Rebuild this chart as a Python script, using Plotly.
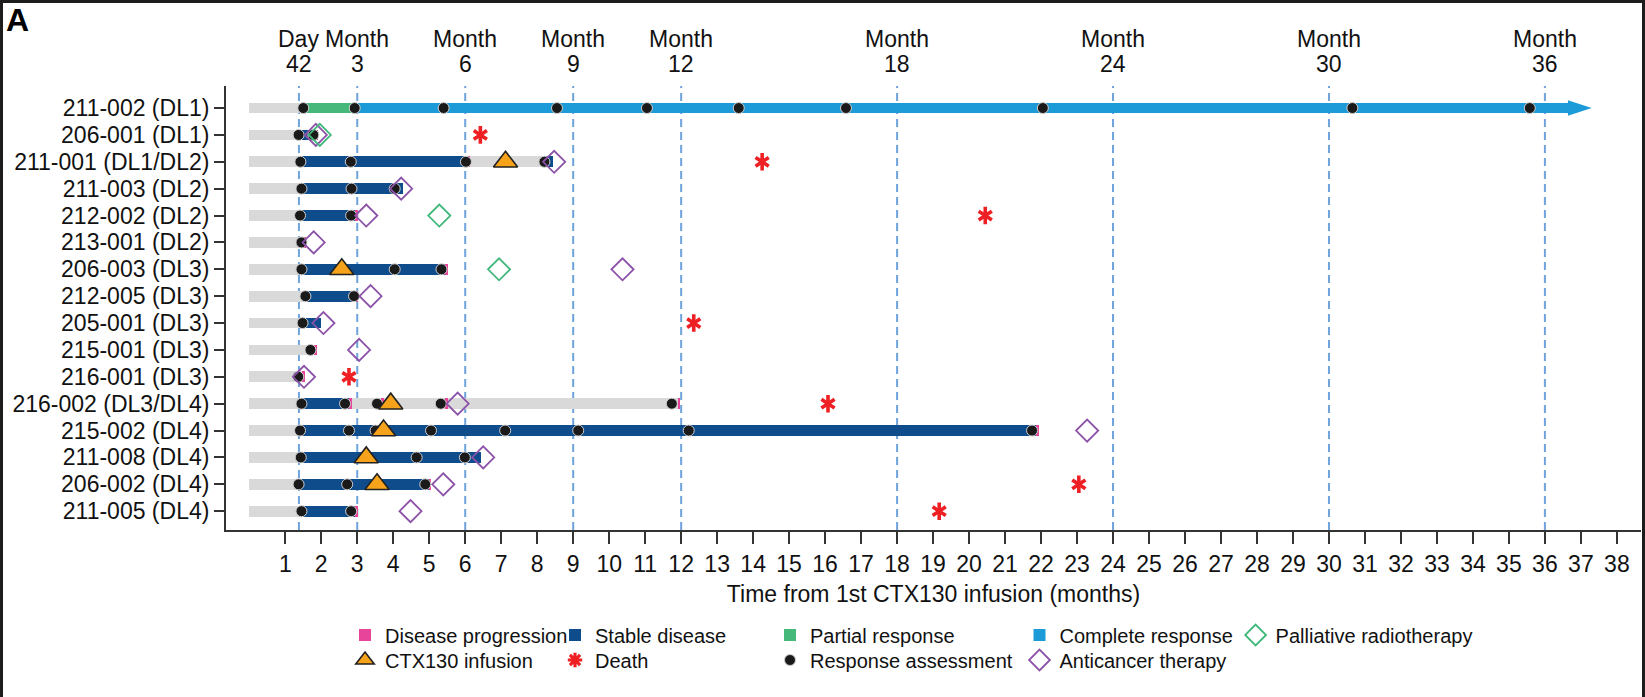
import plotly.graph_objects as go

# ---------------- data ----------------
patients = ["211-002 (DL1)", "206-001 (DL1)", "211-001 (DL1/DL2)", "211-003 (DL2)",
            "212-002 (DL2)", "213-001 (DL2)", "206-003 (DL3)", "212-005 (DL3)",
            "205-001 (DL3)", "215-001 (DL3)", "216-001 (DL3)", "216-002 (DL3/DL4)",
            "215-002 (DL4)", "211-008 (DL4)", "206-002 (DL4)", "211-005 (DL4)"]
rows = list(range(len(patients)))

# grey follow-up bar (from month 0 to end)
followup_start = [0.0] * len(patients)
followup_end = [1.50, 1.82, 8.45, 4.28, 2.95, 1.50, 5.45, 2.95, 1.99, 1.80, 1.46,
                11.90, 21.85, 6.45, 4.98, 2.95]

# stable disease segments
sd_row = [1, 2, 2, 3, 4, 6, 7, 8, 11, 12, 13, 14, 15]
sd_start = [1.37, 1.42, 8.20, 1.45, 1.41, 1.45, 1.56, 1.48, 1.45, 1.41, 1.43, 1.37, 1.45]
sd_end = [1.82, 6.05, 8.45, 4.28, 2.95, 5.45, 2.95, 1.99, 2.78, 21.85, 6.45, 4.98, 2.95]

# partial response
pr_row = [0]
pr_start = [1.50]
pr_end = [2.93]

# complete response (ongoing)
cr_row = [0]
cr_start = [2.93]
cr_end = [36.63]
ongoing_row = [0]
ongoing_tip = [37.30]

# disease progression
pd_row = [1, 2, 4, 5, 6, 7, 9, 10, 11, 11, 11, 11, 12, 14, 15]
pd_month = [1.82, 6.05, 2.95, 1.50, 5.45, 2.95, 1.80, 1.46, 2.78, 3.66, 5.45, 11.90,
            21.85, 4.98, 2.95]

# response assessments per patient row
assessments = [
    [1.50, 2.93, 5.40, 8.55, 11.05, 13.60, 16.58, 22.05, 30.65, 35.58],
    [1.37, 1.78],
    [1.42, 2.82, 6.02, 8.20],
    [1.45, 2.84, 4.04],
    [1.41, 2.83],
    [1.45],
    [1.45, 4.04, 5.34],
    [1.56, 2.91],
    [1.48],
    [1.70],
    [1.36],
    [1.45, 2.66, 3.55, 5.32, 11.74],
    [1.41, 2.77, 3.51, 5.05, 7.11, 9.14, 12.21, 21.75],
    [1.43, 4.65, 5.99],
    [1.37, 2.72, 4.89],
    [1.45, 2.83],
]

# CTX130 (re)infusion
infusion_row = [2, 6, 11, 12, 13, 14]
infusion_month = [7.12, 2.57, 3.93, 3.73, 3.25, 3.55]

# death
death_row = [1, 2, 4, 8, 10, 11, 14, 15]
death_month = [6.42, 14.25, 20.45, 12.35, 2.77, 16.08, 23.05, 19.17]

# anticancer therapy
anticancer_row = [1, 2, 3, 4, 5, 6, 7, 8, 9, 10, 11, 12, 13, 14, 15]
anticancer_month = [1.85, 8.47, 4.22, 3.25, 1.79, 10.37, 3.37, 2.06, 3.05, 1.52, 5.79,
                    23.28, 6.50, 5.39, 4.48]

# palliative radiotherapy
radio_row = [1, 4, 6]
radio_month = [1.96, 5.28, 6.94]

# milestone lines
milestone_month = [42 / 30.44, 3, 6, 9, 12, 18, 24, 30, 36]
milestone_top = ["Day", "Month", "Month", "Month", "Month", "Month", "Month", "Month", "Month"]
milestone_bottom = ["42", "3", "6", "9", "12", "18", "24", "30", "36"]

x_ticks = list(range(1, 39))

# ---------------- style ----------------
FONT = "Liberation Sans, Arial, Helvetica, sans-serif"
GRAY = "#d9d9d9"
SD = "#0f4c8c"
PR = "#46b97a"
CR = "#1d9bd8"
PDC = "#e8449a"
ORANGE = "#f6a31b"
RED = "#ee2024"
PURPLE = "#8c52a8"
GREEN_D = "#3fb87a"
DASH = "#6fa3dc"
BAR_W = 0.40
PD_LEN = 0.08

L, R, T, B = 226, 4, 86, 167
W, H = 1645, 697
PW = W - L - R
PH = H - T - B


def px_x(px):
    return (px - L) / PW


def px_y(py):
    return (H - B - py) / PH


fig = go.Figure()


def seg(rws, starts, ends, color, name, legend, show=True):
    fig.add_trace(go.Bar(
        orientation="h", y=rws, base=starts,
        x=[e - s for s, e in zip(starts, ends)],
        width=BAR_W, marker=dict(color=color, line=dict(width=0)),
        name=name, legend=legend, showlegend=show, hoverinfo="skip"))


seg(rows, followup_start, followup_end, GRAY, "Follow-up", "legend", show=False)
seg(sd_row, sd_start, sd_end, SD, "Stable disease", "legend2")
seg(pr_row, pr_start, pr_end, PR, "Partial response", "legend3")
seg(cr_row, cr_start, cr_end, CR, "Complete response", "legend4")
seg(pd_row, pd_month, [m + PD_LEN for m in pd_month], PDC, "Disease progression", "legend")

# ongoing arrow
fig.add_trace(go.Scatter(
    x=ongoing_tip, y=ongoing_row, mode="markers",
    marker=dict(symbol="arrow", angle=90, size=25, color=CR, line=dict(width=0)),
    showlegend=False, hoverinfo="skip"))

# response assessment dots
ra_x, ra_y = [], []
for r, months in zip(rows, assessments):
    for m in months:
        ra_x.append(m)
        ra_y.append(r)
fig.add_trace(go.Scatter(
    x=ra_x, y=ra_y, mode="markers", name="Response assessment", legend="legend8",
    marker=dict(symbol="circle", size=11, color="#1a1a1a", line=dict(width=1, color="#cfcfcf")),
    hoverinfo="skip"))

fig.add_trace(go.Scatter(
    x=anticancer_month, y=anticancer_row, mode="markers", name="Anticancer therapy",
    legend="legend9",
    marker=dict(symbol="diamond-open", size=17, color=PURPLE, line=dict(width=1.8, color=PURPLE)),
    hoverinfo="skip"))

fig.add_trace(go.Scatter(
    x=radio_month, y=radio_row, mode="markers", name="Palliative radiotherapy",
    legend="legend5",
    marker=dict(symbol="diamond-open", size=17, color=GREEN_D, line=dict(width=1.8, color=GREEN_D)),
    hoverinfo="skip"))

fig.add_trace(go.Scatter(
    x=infusion_month, y=infusion_row, mode="markers", name="CTX130 infusion",
    legend="legend6",
    marker=dict(symbol="triangle-up", size=21, color=ORANGE, line=dict(width=1.6, color="#222222")),
    hoverinfo="skip"))

# death: six-armed asterisk built from two Y glyphs
for sym in ["y-up-open", "y-down-open"]:
    fig.add_trace(go.Scatter(
        x=death_month, y=death_row, mode="markers", legendgroup="death", showlegend=False,
        marker=dict(symbol=sym, size=11, color=RED, line=dict(width=3.6, color=RED)),
        hoverinfo="skip"))
# legend entry for death
fig.add_trace(go.Scatter(
    x=[None], y=[None], mode="markers", name="Death", legend="legend7", legendgroup="death",
    marker=dict(symbol="asterisk-open", size=12, color=RED, line=dict(width=3.2, color=RED)),
    hoverinfo="skip"))

# ---------------- layout ----------------
shapes = [dict(type="rect", xref="paper", yref="paper", layer="below",
               x0=px_x(3), x1=px_x(1642), y0=px_y(720), y1=px_y(3),
               fillcolor="white", line=dict(width=0))]
for m in milestone_month:
    shapes.append(dict(type="line", xref="x", yref="paper", x0=m, x1=m, y0=0, y1=1,
                       layer="below", line=dict(color=DASH, width=2, dash="8px,5px")))

annotations = []
for m, t1, t2 in zip(milestone_month, milestone_top, milestone_bottom):
    annotations.append(dict(x=m, y=px_y(39), xref="x", yref="paper", text=t1,
                            showarrow=False, xanchor="center", yanchor="middle",
                            font=dict(family=FONT, size=23, color="#111111")))
    annotations.append(dict(x=m, y=px_y(64), xref="x", yref="paper", text=t2,
                            showarrow=False, xanchor="center", yanchor="middle",
                            font=dict(family=FONT, size=23, color="#111111")))
annotations.append(dict(x=px_x(5), y=px_y(1), xref="paper", yref="paper", text="<b>A</b>",
                        showarrow=False, xanchor="left", yanchor="top", borderpad=0,
                        font=dict(family=FONT, size=32, color="#000000")))

legend_text_x = [385, 595, 810, 1059.5, 1275.6]
legend_rows_y = [635, 660]
legend_layout = {}
order = [("legend", 0, 0), ("legend2", 1, 0), ("legend3", 2, 0), ("legend4", 3, 0),
         ("legend5", 4, 0), ("legend6", 0, 1), ("legend7", 1, 1), ("legend8", 2, 1),
         ("legend9", 3, 1)]
for name, col, rw in order:
    legend_layout[name] = dict(
        x=px_x(legend_text_x[col] - 40), y=px_y(legend_rows_y[rw]),
        xanchor="left", yanchor="middle", orientation="v",
        bgcolor="rgba(0,0,0,0)", borderwidth=0,
        font=dict(family=FONT, size=20, color="#111111"))

fig.update_layout(
    width=W, height=H,
    margin=dict(l=L, r=R, t=T, b=B, autoexpand=False),
    paper_bgcolor="#1c1c1c", plot_bgcolor="white",
    barmode="overlay", bargap=0,
    font=dict(family=FONT, size=23, color="#111111"),
    shapes=shapes, annotations=annotations,
    xaxis=dict(range=[-0.647, 38.67], tickvals=x_ticks,
               ticktext=[str(t) for t in x_ticks],
               ticks="outside", ticklen=12, tickwidth=2, tickcolor="#333333",
               showline=True, linewidth=2, linecolor="#333333",
               showgrid=False, zeroline=False,
               tickfont=dict(family=FONT, size=23, color="#111111"),
               title=dict(text="Time from 1st CTX130 infusion (months)",
                          font=dict(family=FONT, size=23, color="#111111"), standoff=10)),
    yaxis=dict(range=[15.7, -0.82], tickvals=rows, ticktext=patients,
               ticks="outside", ticklen=10, tickwidth=2, tickcolor="#333333",
               showline=True, linewidth=2, linecolor="#333333",
               showgrid=False, zeroline=False,
               tickfont=dict(family=FONT, size=23, color="#111111")),
    **legend_layout,
)

fig.write_html("out.html")
